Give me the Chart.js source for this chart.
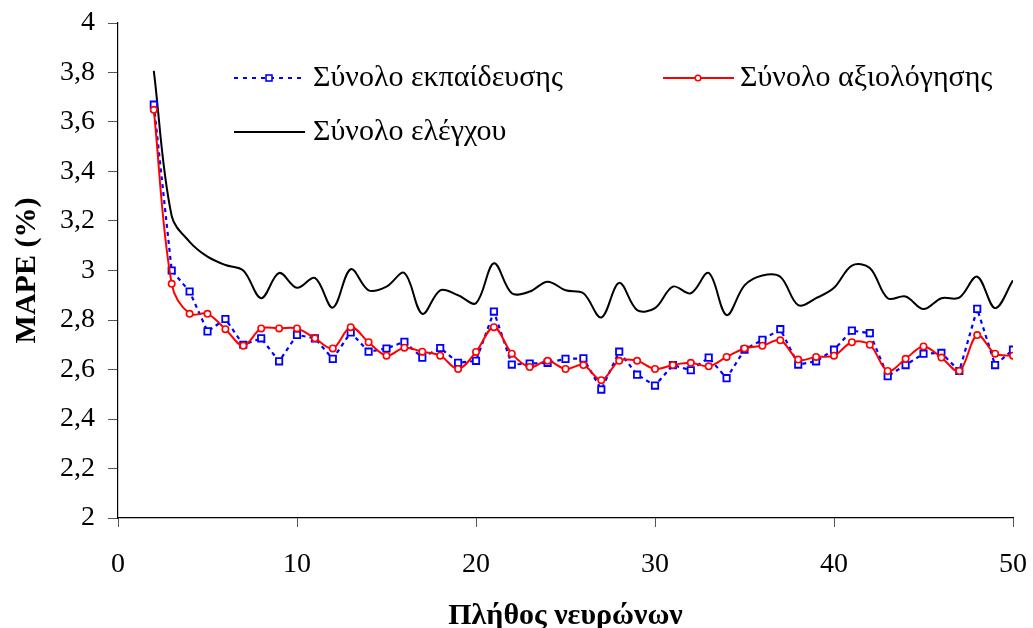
<!DOCTYPE html>
<html lang="el">
<head>
  <meta charset="UTF-8" />
  <title>MAPE - Πλήθος νευρώνων</title>
  <script src="https://cdn.jsdelivr.net/npm/chart.js"></script>
  <style>
    body {
      margin: 0;
      padding: 0;
      background: #ffffff;
    }
    #wrap {
      width: 1033px;
      height: 628px;
    }
  </style>
</head>
<body>
<div id="wrap"><canvas id="mapeChart" width="1033" height="628"></canvas></div>
<script>
// number of hidden neurons
const neurons = [2, 3, 4, 5, 6, 7, 8, 9, 10, 11, 12, 13, 14, 15, 16, 17, 18, 19, 20, 21, 22, 23, 24, 25, 26,
  27, 28, 29, 30, 31, 32, 33, 34, 35, 36, 37, 38, 39, 40, 41, 42, 43, 44, 45, 46, 47, 48, 49, 50];

// MAPE (%) per set
const trainMape = [3.67, 3.00, 2.915, 2.754, 2.804, 2.70, 2.726, 2.633, 2.74, 2.726, 2.643, 2.75, 2.672,
  2.685, 2.712, 2.648, 2.687, 2.627, 2.635, 2.834, 2.62, 2.624, 2.627, 2.643, 2.645, 2.519, 2.672, 2.579,
  2.535, 2.618, 2.597, 2.648, 2.565, 2.68, 2.72, 2.763, 2.62, 2.633, 2.68, 2.757, 2.747, 2.573, 2.618,
  2.664, 2.667, 2.594, 2.845, 2.618, 2.68];
const validMape = [3.649, 2.946, 2.825, 2.825, 2.763, 2.696, 2.766, 2.766, 2.766, 2.726, 2.685, 2.771, 2.71,
  2.656, 2.688, 2.672, 2.656, 2.602, 2.671, 2.771, 2.664, 2.61, 2.635, 2.602, 2.618, 2.557, 2.635, 2.635,
  2.602, 2.618, 2.627, 2.613, 2.651, 2.685, 2.696, 2.718, 2.64, 2.651, 2.656, 2.71, 2.70, 2.594, 2.643,
  2.693, 2.648, 2.594, 2.739, 2.664, 2.656];
const testMape = [3.807, 3.22, 3.116, 3.056, 3.022, 3.0, 2.888, 2.99, 2.93, 2.97, 2.85, 3.005, 2.92,
  2.935, 2.99, 2.825, 2.92, 2.90, 2.868, 3.029, 2.908, 2.915, 2.955, 2.92, 2.908, 2.81, 2.95, 2.84,
  2.848, 2.935, 2.908, 2.99, 2.82, 2.94, 2.98, 2.975, 2.86, 2.888, 2.93, 3.02, 3.01, 2.888, 2.895,
  2.844, 2.888, 2.89, 2.975, 2.848, 2.96];

const seriesNames = ["Σύνολο εκπαίδευσης", "Σύνολο αξιολόγησης", "Σύνολο ελέγχου"];
const xTitle = "Πλήθος νευρώνων";
const yTitle = "MAPE (%)";

const serif = "'Liberation Serif', 'Times New Roman', serif";
Chart.defaults.font.family = serif;
Chart.defaults.color = "#000";

const toPoints = vals => neurons.map((n, i) => ({ x: n, y: vals[i] }));

// legend drawn by hand, Excel puts it inside the plot in two rows
const legendInside = {
  id: "legendInside",
  afterDraw(chart) {
    const ctx = chart.ctx;
    ctx.save();
    ctx.font = "30px " + serif;
    ctx.fillStyle = "#000";
    ctx.textBaseline = "middle";
    ctx.textAlign = "left";

    // training: dotted blue + square
    let y = 78;
    ctx.strokeStyle = "#0000ff";
    ctx.lineWidth = 2;
    ctx.setLineDash([4, 5]);
    ctx.beginPath();
    ctx.moveTo(234, y);
    ctx.lineTo(305, y);
    ctx.stroke();
    ctx.setLineDash([]);
    ctx.fillStyle = "#fff";
    ctx.fillRect(266, y - 3, 6, 6);
    ctx.lineWidth = 1.6;
    ctx.strokeRect(266, y - 3, 6, 6);
    ctx.fillStyle = "#000";
    ctx.fillText(chart.data.datasets[0].label, 313, y);

    // validation: red line + circle
    ctx.strokeStyle = "#ff0000";
    ctx.lineWidth = 2;
    ctx.beginPath();
    ctx.moveTo(663, y);
    ctx.lineTo(734, y);
    ctx.stroke();
    ctx.fillStyle = "#fff";
    ctx.beginPath();
    ctx.arc(698, y, 2.8, 0, Math.PI * 2);
    ctx.fill();
    ctx.lineWidth = 1.5;
    ctx.stroke();
    ctx.fillStyle = "#000";
    ctx.fillText(chart.data.datasets[1].label, 740, y);

    // test: black line
    y = 132;
    ctx.strokeStyle = "#000";
    ctx.lineWidth = 2;
    ctx.beginPath();
    ctx.moveTo(234, y);
    ctx.lineTo(305, y);
    ctx.stroke();
    ctx.fillText(chart.data.datasets[2].label, 313, y);
    ctx.restore();
  }
};

new Chart(document.getElementById("mapeChart"), {
  type: "line",
  data: {
    datasets: [
      {
        label: seriesNames[0],
        data: toPoints(trainMape),
        borderColor: "#0000ff",
        borderWidth: 2.2,
        borderDash: [4, 4],
        tension: 0,
        pointStyle: "rect",
        pointRadius: 4.5,
        pointBorderWidth: 1.8,
        pointBorderColor: "#0000ff",
        pointBackgroundColor: "#ffffff",
        order: 2
      },
      {
        label: seriesNames[1],
        data: toPoints(validMape),
        borderColor: "#ff0000",
        borderWidth: 2,
        tension: 0.35,
        pointStyle: "circle",
        pointRadius: 3.2,
        pointBorderWidth: 1.6,
        pointBorderColor: "#ff0000",
        pointBackgroundColor: "#ffffff",
        order: 1
      },
      {
        label: seriesNames[2],
        data: toPoints(testMape),
        borderColor: "#000000",
        borderWidth: 2,
        tension: 0.35,
        pointRadius: 0,
        order: 3
      }
    ]
  },
  options: {
    responsive: false,
    animation: false,
    devicePixelRatio: 1,
    layout: { padding: { left: 0, top: 23, right: 20, bottom: 0 } },
    plugins: {
      legend: { display: false },
      tooltip: { enabled: false }
    },
    scales: {
      x: {
        type: "linear",
        min: 0,
        max: 50,
        // fixed box so the plot area lines up with the original
        afterFit: s => { s.height = 110; s.paddingLeft = 0; s.paddingRight = 0; },
        ticks: {
          stepSize: 10,
          padding: 21,
          maxRotation: 0,
          font: { size: 28, family: serif },
          color: "#000"
        },
        grid: { drawOnChartArea: false, tickLength: 9, color: "#555", tickWidth: 1 },
        border: { color: "#000", width: 1.2 },
        title: {
          display: true,
          text: xTitle,
          font: { size: 30, weight: "bold", family: serif, lineHeight: 0.78 },
          color: "#000",
          padding: { top: 0, bottom: 0 }
        }
      },
      y: {
        min: 2,
        max: 4,
        afterFit: s => { s.width = 118; s.paddingTop = 0; s.paddingBottom = 0; },
        ticks: {
          stepSize: 0.2,
          padding: 13,
          font: { size: 28, family: serif },
          color: "#000",
          callback: v => String(Number(v.toFixed(1))).replace(".", ",")
        },
        grid: { drawOnChartArea: false, tickLength: 10, color: "#555", tickWidth: 1 },
        border: { color: "#000", width: 1.2 },
        title: {
          display: true,
          text: yTitle,
          font: { size: 30, weight: "bold", family: serif },
          color: "#000",
          padding: { top: 9, bottom: 0 }
        }
      }
    }
  },
  plugins: [legendInside]
});
</script>
</body>
</html>
